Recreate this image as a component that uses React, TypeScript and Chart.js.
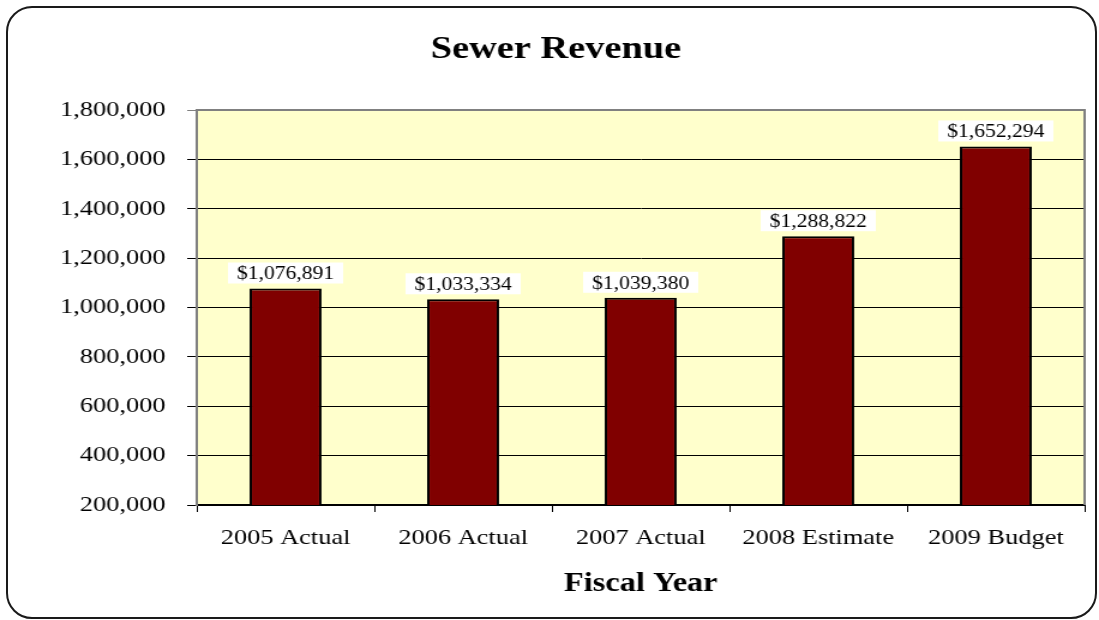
import React, { useEffect, useRef } from "react";
import { Chart, registerables } from "chart.js";

Chart.register(...registerables);

const categories = ["2005 Actual", "2006 Actual", "2007 Actual", "2008 Estimate", "2009 Budget"];
const revenue = [1076891, 1033334, 1039380, 1288822, 1652294];
const yMin = 200000;
const yMax = 1800000;
const yStep = 200000;
const titleText = "Sewer Revenue";
const xTitleText = "Fiscal Year";

const SERIF = "'Liberation Serif', 'Times New Roman', serif";
const STRETCH = 1.2;
const W = 1099;
const H = 620;
const CW = Math.round(W / STRETCH);

const fmt = (v: number) => v.toLocaleString("en-US");

const plotBg = {
  id: "plotBg",
  beforeDraw(chart: any) {
    const { ctx, chartArea: a } = chart;
    ctx.save();
    ctx.fillStyle = "#FFFFCC";
    ctx.fillRect(a.left, a.top, a.right - a.left, a.bottom - a.top);
    ctx.restore();
  },
  afterDraw(chart: any) {
    const { ctx, chartArea: a } = chart;
    ctx.save();
    ctx.strokeStyle = "#808080";
    ctx.lineWidth = 2;
    ctx.beginPath();
    ctx.moveTo(a.left, a.top);
    ctx.lineTo(a.right, a.top);
    ctx.lineTo(a.right, a.bottom);
    ctx.stroke();
    // chart title
    ctx.fillStyle = "#000000";
    ctx.font = `bold 32px ${SERIF}`;
    ctx.textAlign = "center";
    ctx.textBaseline = "alphabetic";
    ctx.fillText(titleText, 556 / STRETCH, 58);
    ctx.restore();
  },
};

const valueLabels = {
  id: "valueLabels",
  afterDatasetsDraw(chart: any) {
    const { ctx } = chart;
    const meta = chart.getDatasetMeta(0);
    const data = chart.data.datasets[0].data as number[];
    ctx.save();
    ctx.font = `18px ${SERIF}`;
    ctx.textAlign = "center";
    ctx.textBaseline = "middle";
    meta.data.forEach((el: any, i: number) => {
      const text = "$" + fmt(data[i]);
      const tw = ctx.measureText(text).width;
      const bw = tw + 15;
      const bh = 21;
      const bottom = el.y - 5;
      ctx.fillStyle = "#FFFFFF";
      ctx.fillRect(el.x - bw / 2, bottom - bh, bw, bh);
      ctx.fillStyle = "#000000";
      ctx.fillText(text, el.x, bottom - bh / 2 + 1.5);
    });
    ctx.restore();
  },
};

export default function App() {
  const ref = useRef<HTMLCanvasElement | null>(null);

  useEffect(() => {
    if (!ref.current) return;
    const chart = new Chart(ref.current, {
      type: "bar",
      data: {
        labels: categories,
        datasets: [
          {
            data: revenue,
            backgroundColor: "#800000",
            borderColor: "#000000",
            borderWidth: 2,
            barPercentage: 0.405,
            categoryPercentage: 1,
          },
        ],
      },
      options: {
        responsive: false,
        animation: false,
        devicePixelRatio: 1,
        layout: { padding: { left: 0, right: 12, top: 110, bottom: 0 } },
        plugins: {
          legend: { display: false },
          tooltip: { enabled: false },
          title: { display: false },
        },
        scales: {
          x: {
            afterFit(scale: any) {
              scale.height = 115;
            },
            grid: {
              offset: true,
              drawOnChartArea: false,
              drawTicks: true,
              tickLength: 7,
              color: "#000000",
              lineWidth: 1,
            },
            border: { display: true, color: "#000000", width: 2 },
            ticks: {
              color: "#000000",
              font: { family: SERIF, size: 22 },
              padding: 13,
              maxRotation: 0,
              autoSkip: false,
            },
            title: {
              display: true,
              text: xTitleText,
              color: "#000000",
              font: { family: SERIF, size: 27, weight: "bold" },
              padding: { top: 0, bottom: 20 },
            },
          },
          y: {
            min: yMin,
            max: yMax,
            afterFit(scale: any) {
              scale.width = 164;
            },
            grid: {
              color: (c: any) => (c.tick && c.tick.value === yMax ? "#808080" : "#000000"),
              lineWidth: 1,
              drawTicks: true,
              tickLength: 8,
            },
            border: { display: true, color: "#808080", width: 2 },
            ticks: {
              stepSize: yStep,
              color: "#000000",
              font: { family: SERIF, size: 22 },
              padding: 18,
              callback: (v: any) => fmt(Number(v)),
            },
          },
        },
      },
      plugins: [plotBg, valueLabels],
    });
    return () => chart.destroy();
  }, []);

  return (
    <div
      style={{
        position: "fixed",
        left: 0,
        top: 0,
        width: W,
        height: H,
        background: "#FFFFFF",
        overflow: "hidden",
      }}
    >
      <canvas
        ref={ref}
        width={CW}
        height={H}
        style={{ position: "absolute", left: 0, top: 0, width: W + "px", height: H + "px" }}
      />
      <div
        style={{
          position: "absolute",
          left: 6,
          top: 6,
          width: 1091,
          height: 613,
          boxSizing: "border-box",
          border: "2px solid #1a1a1a",
          borderRadius: 26,
          pointerEvents: "none",
        }}
      />
    </div>
  );
}
